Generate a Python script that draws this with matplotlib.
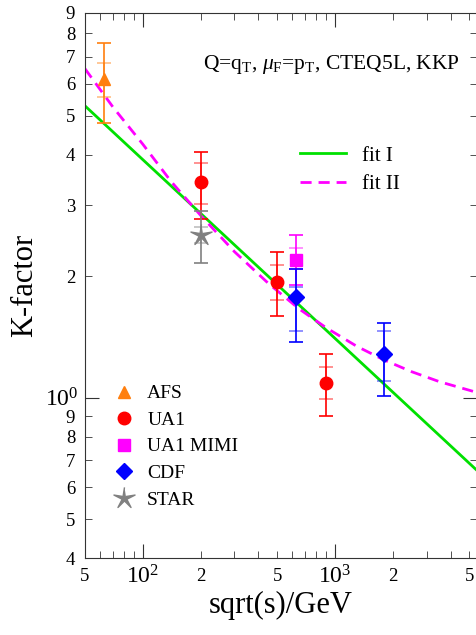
import numpy as np
import matplotlib
matplotlib.use("Agg")
import matplotlib.pyplot as plt
from matplotlib.ticker import LogLocator, FuncFormatter, FixedLocator

plt.rcParams['font.family'] = ['Liberation Serif', 'DejaVu Serif']
plt.rcParams['mathtext.fontset'] = 'custom'
plt.rcParams['mathtext.rm'] = 'Liberation Serif'
plt.rcParams['mathtext.it'] = 'Liberation Serif:italic'

# data: y, inner (stat) band, outer (total) band
afs_x = [63]
afs_y = [6.18]
afs_in = [[5.57], [6.76]]
afs_out = [[4.80], [7.59]]

ua1_x = [200, 500, 900]
ua1_y = [3.43, 1.94, 1.09]
ua1_in = [[3.02, 1.75, 0.99], [3.82, 2.13, 1.19]]
ua1_out = [[2.78, 1.59, 0.90], [4.07, 2.29, 1.28]]

mimi_x = [630]
mimi_y = [2.19]
mimi_in = [[2.08], [2.35]]
mimi_out = [[1.90], [2.53]]

cdf_x = [630, 1800]
cdf_y = [1.78, 1.28]
cdf_in = [[1.46, 1.10], [1.88, 1.46]]
cdf_out = [[1.37, 1.01], [2.08, 1.53]]

star_x = [200]
star_y = [2.53]
star_in = [[2.42], [2.65]]
star_out = [[2.16], [2.90]]

# fit curves
fit1_x = [50, 5480]
fit1_y = [5.29, 0.66]
fit2_x = [50, 70, 100, 140, 200, 300, 450, 650, 900, 1300, 1800, 2500, 3500, 5480]
fit2_y = [6.54, 5.25, 4.25, 3.44, 2.83, 2.30, 1.92, 1.66, 1.49, 1.34, 1.24, 1.16, 1.095, 1.03]

fig = plt.figure(figsize=(4.77, 6.35), dpi=100)
ax = fig.add_axes([0.178, 0.121, 0.822, 0.859])
ax.set_xscale('log')
ax.set_yscale('log')
ax.set_xlim(50, 5480)
ax.set_ylim(0.4, 9)

l1, = ax.plot(fit1_x, fit1_y, color='#00e000', lw=2, label='fit I')
l2, = ax.plot(fit2_x, fit2_y, color='#ff00ff', lw=2, ls=(0, (4, 2.5)), label='fit II')

# thin five-armed star like the original
ang = np.pi / 2 + np.arange(10) * np.pi / 5
rad = np.where(np.arange(10) % 2 == 0, 1.0, 0.22)
star_marker = np.column_stack([rad * np.cos(ang), rad * np.sin(ang)])


def err(lo_hi, y):
    return [np.array(y) - np.array(lo_hi[0]), np.array(lo_hi[1]) - np.array(y)]


def draw(x, y, inner, outer, color, marker, ms, label):
    ax.errorbar(x, y, yerr=err(outer, y), fmt='none', ecolor=color, elinewidth=1.2,
                capsize=5, capthick=1.2, zorder=3)
    ax.errorbar(x, y, yerr=err(inner, y), fmt='none', ecolor=color, elinewidth=1.2,
                capsize=5, capthick=1.2, alpha=0.5, zorder=3)
    return ax.plot(x, y, ls='none', marker=marker, color=color, ms=ms, zorder=4,
                   label=label)[0]


h1 = draw(afs_x, afs_y, afs_in, afs_out, '#ff7f0e', '^', 9, 'AFS')
h2 = draw(ua1_x, ua1_y, ua1_in, ua1_out, '#ff0000', 'o', 9, 'UA1')
h3 = draw(mimi_x, mimi_y, mimi_in, mimi_out, '#ff00ff', 's', 9, 'UA1 MIMI')
h4 = draw(cdf_x, cdf_y, cdf_in, cdf_out, '#0000ff', 'D', 8, 'CDF')
h5 = draw(star_x, star_y, star_in, star_out, '#808080', star_marker, 16, 'STAR')

leg1 = ax.legend(handles=[l1, l2], loc='upper left', bbox_to_anchor=(0.5, 0.79),
                 frameon=False, fontsize=15, handlelength=2.2, labelspacing=0.43)
ax.add_artist(leg1)
ax.legend(handles=[h1, h2, h3, h4, h5], loc='upper left', bbox_to_anchor=(0.025, 0.35),
          frameon=False, fontsize=14, handlelength=1.2, labelspacing=0.46,
          handletextpad=0.6)

ax.text(0.957, 0.905, r'Q=q$_\mathrm{T}$, $\mu_\mathrm{F}$=p$_\mathrm{T}$, CTEQ5L, KKP',
        transform=ax.transAxes, ha='right', va='center', fontsize=15.5)

ax.set_xlabel('sqrt(s)/GeV', fontsize=22)
ax.set_ylabel('K-factor', fontsize=22)
ax.xaxis.set_label_coords(0.5, -0.06)
ax.yaxis.set_label_coords(-0.118, 0.5)

ax.xaxis.set_major_locator(FixedLocator([100, 1000]))
ax.xaxis.set_major_formatter(FuncFormatter(lambda v, p: r'$10^{%d}$' % round(np.log10(v))))
ax.xaxis.set_minor_locator(LogLocator(base=10, subs=np.arange(2, 10), numticks=20))
ax.xaxis.set_minor_formatter(FuncFormatter(
    lambda v, p: str(int(round(v / 10 ** np.floor(np.log10(v) + 1e-9))))
    if round(v / 10 ** np.floor(np.log10(v) + 1e-9)) in (2, 5) else ''))

ax.yaxis.set_major_locator(FixedLocator([1]))
ax.yaxis.set_major_formatter(FuncFormatter(lambda v, p: r'$10^{0}$'))
ax.yaxis.set_minor_locator(LogLocator(base=10, subs=np.arange(2, 10), numticks=20))
ax.yaxis.set_minor_formatter(FuncFormatter(
    lambda v, p: str(int(round(v / 10 ** np.floor(np.log10(v) + 1e-9))))))

ax.tick_params(which='both', direction='in', top=True, right=True, color='#333333')
ax.tick_params(which='major', length=10, labelsize=17, pad=5)
ax.tick_params(which='minor', length=5, labelsize=13.5, pad=7)
for s in ax.spines.values():
    s.set_color('#333333')
ax.spines['right'].set_visible(False)

fig.savefig('out.png', dpi=100)
